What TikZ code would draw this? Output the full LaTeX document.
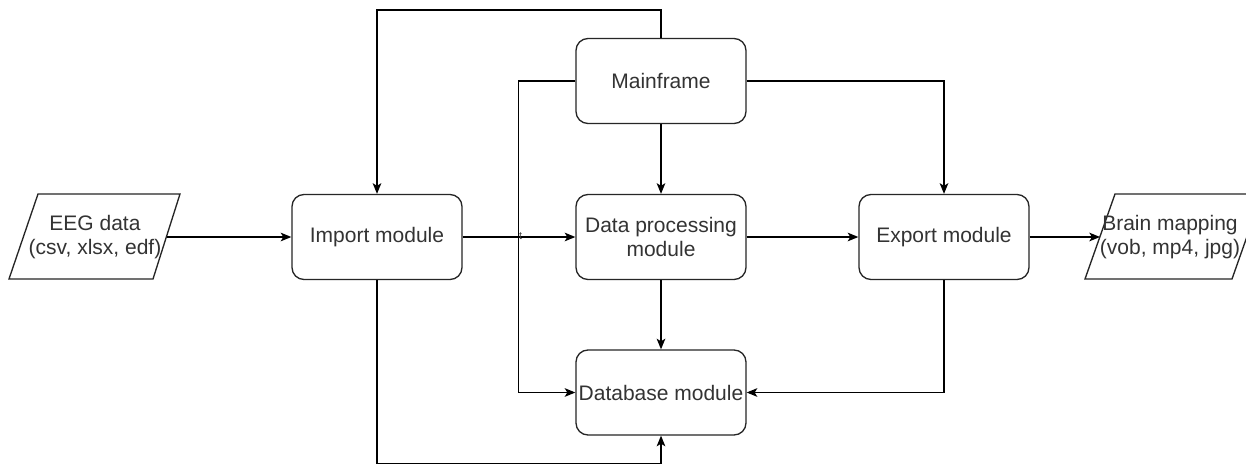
\documentclass[tikz,border=0pt]{standalone}
\usepackage{fontspec}
\setmainfont{Liberation Sans}
\usetikzlibrary{arrows.meta}
\begin{document}
\begin{tikzpicture}[x=0.75pt,y=-0.75pt,
  box/.style={draw=black!85, line width=1pt, rounded corners=9pt,
    minimum width=127.5pt, minimum height=63.75pt, inner sep=0pt,
    align=center, text=black!80, font=\fontsize{15.75}{18}\selectfont},
  lbl/.style={inner sep=0pt, align=center, text=black!80, font=\fontsize{15.75}{18}\selectfont},
  pline/.style={draw=black!85, line width=1pt},
  conn/.style={line width=1pt, -{Stealth[length=8pt,width=6.5pt,inset=2pt]}}]
\clip (0,0) rectangle (1246,464);
\fill[white] (0,0) rectangle (1246,464);
% boxes
\node[box] (imp) at (377,237) {Import module};
\node[box] (dp) at (661,237) {Data processing\\module};
\node[box] (mf) at (661,81) {Mainframe};
\node[box] (db) at (661,392.5) {Database module};
\node[box] (exp) at (944,237) {Export module};
% parallelograms
\draw[pline] (38,194) -- (180,194) -- (153,279) -- (9,279) -- cycle;
\node[lbl] (eeg) at (95,237) {EEG data\\(csv, xlsx, edf)};
\coordinate (eegR) at (166.5,237);
\draw[pline] (1115,194) -- (1262,194) -- (1232,279) -- (1085,279) -- cycle;
\node[lbl] (brain) at (1170,237) {Brain mapping\\(vob, mp4, jpg)};
\coordinate (brainL) at (1100,237);
% connectors
\draw[conn] (eegR) -- (imp.west);
\draw[conn] (imp.east) -- (dp.west);
\draw[conn] (dp.east) -- (exp.west);
\draw[conn] (exp.east) -- (brainL);
\draw[conn] (mf.north) -- ++(0,-28) -| (imp.north);
\draw[conn] (mf.west) -- ++(-57,0) |- (db.west);
\draw[conn] (mf.east) -| (exp.north);
\draw[conn] (mf.south) -- (dp.north);
\draw[conn] (dp.south) -- (db.north);
\draw[conn] (exp.south) |- (db.east);
\draw[conn] (imp.south) -- ++(0,183.5) -| (db.south);
\node[inner sep=0pt, text=black!75, font=\fontsize{8}{8}\selectfont] (tmark) at (520.5,236) {t};
\end{tikzpicture}
\end{document}
